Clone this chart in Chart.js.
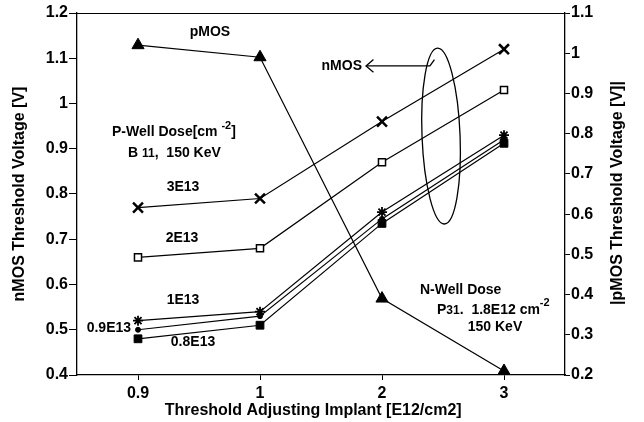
<!DOCTYPE html>
<html>
<head>
<meta charset="utf-8">
<script src="https://cdn.jsdelivr.net/npm/chart.js@4.4.1/dist/chart.umd.min.js"></script>
<style>
html,body{margin:0;padding:0;background:#fff;}
#wrap{width:644px;height:422px;position:relative;}
</style>
</head>
<body>
<div id="wrap"><canvas id="c" width="644" height="422"></canvas></div>
<script>
// ---- data ----
const categories = ['0.9', '1', '2', '3'];
const nmos3E13  = [0.77, 0.79, 0.96, 1.12];
const nmos2E13  = [0.66, 0.68, 0.87, 1.03];
const nmos1E13  = [0.52, 0.54, 0.76, 0.93];
const nmos09E13 = [0.50, 0.53, 0.745, 0.92];
const nmos08E13 = [0.48, 0.51, 0.735, 0.912];
const pmosVth   = [1.02, 0.99, 0.39, 0.21];
const leftTicks  = [0.4, 0.5, 0.6, 0.7, 0.8, 0.9, 1.0, 1.1, 1.2];
const rightTicks = [0.2, 0.3, 0.4, 0.5, 0.6, 0.7, 0.8, 0.9, 1.0, 1.1];
const xTitle = 'Threshold Adjusting Implant [E12/cm2]';
const yTitle = 'nMOS Threshold Voltage [V]';
const y1Title = '|pMOS Threshold Voltage [V]|';

const FONT = '"Liberation Sans", Arial, Helvetica, sans-serif';
const fmt = v => String(+(+v).toFixed(1));

function ds(label, data, style, radius, filled, axis, bw) {
  return {
    label, data, yAxisID: axis,
    borderColor: '#000', borderWidth: 1.2,
    pointStyle: style, pointRadius: radius,
    pointBorderWidth: bw || 1.5,
    pointBackgroundColor: filled ? '#000' : '#fff',
    pointBorderColor: '#000',
    tension: 0, fill: false, clip: false
  };
}

const annot = {
  id: 'annot',
  afterDatasetsDraw(chart) {
    const { ctx, chartArea: a, scales } = chart;
    const xs = scales.x, ys = scales.y;
    const P = (i, v) => [xs.getPixelForValue(i), ys.getPixelForValue(v)];
    ctx.save();
    ctx.fillStyle = '#000';
    ctx.strokeStyle = '#000';
    ctx.textBaseline = 'middle';
    const f = s => 'bold ' + s + 'px ' + FONT;
    const txt = (s, i, v, align, size, dx, dy) => {
      const [px, py] = P(i, v);
      ctx.font = f(size || 14);
      ctx.textAlign = align || 'center';
      ctx.fillText(s, px + (dx || 0), py + (dy || 0));
    };
    // runs of text with super/subscripts: [text, size, dy]
    const runs = (i, v, parts) => {
      let [px, py] = P(i, v);
      ctx.textAlign = 'left';
      for (const [s, size, dy] of parts) {
        ctx.font = f(size);
        ctx.fillText(s, px, py + dy);
        px += ctx.measureText(s).width;
      }
    };

    // top frame line
    ctx.lineWidth = 1;
    ctx.beginPath();
    ctx.moveTo(a.left, a.top + 0.5);
    ctx.lineTo(a.right, a.top + 0.5);
    ctx.stroke();

    txt('pMOS', 0.59, 1.158, 'center', 14);
    txt('nMOS', 1.836, 1.083, 'right', 14);
    // arrow to ellipse
    ctx.lineWidth = 1.3;
    ctx.beginPath();
    let p = P(1.93, 1.097); ctx.moveTo(p[0], p[1]);
    p = P(1.869, 1.083); ctx.lineTo(p[0], p[1]);
    p = P(1.93, 1.069); ctx.lineTo(p[0], p[1]);
    ctx.stroke();
    ctx.beginPath();
    p = P(1.869, 1.083); ctx.moveTo(p[0], p[1]);
    p = P(2.393, 1.083); ctx.lineTo(p[0], p[1]);
    p = P(2.43, 1.097); ctx.lineTo(p[0], p[1]);
    ctx.stroke();
    // ellipse
    const c = P(2.484, 0.928);
    const rx = xs.getPixelForValue(2.484 + 0.156) - c[0];
    const ry = ys.getPixelForValue(0.928) - ys.getPixelForValue(0.928 + 0.1945);
    ctx.beginPath();
    ctx.ellipse(c[0], c[1], rx, ry, -0.04, 0, Math.PI * 2);
    ctx.stroke();

    runs(-0.213, 0.937, [['P-Well Dose[cm ', 14, 0], ['-2', 11, -6], [']', 14, 0]]);
    runs(-0.082, 0.891, [['B ', 14, 0], ['11', 12, 1], [',  150 KeV', 14, 0]]);
    txt('3E13', 0.369, 0.815, 'center', 14);
    txt('2E13', 0.361, 0.703, 'center', 14);
    txt('1E13', 0.369, 0.566, 'center', 14);
    txt('0.9E13', -0.057, 0.504, 'right', 14);
    txt('0.8E13', 0.451, 0.473, 'center', 14);
    runs(2.311, 0.588, [['N-Well Dose', 14, 0]]);
    runs(2.451, 0.544, [['P', 14, 0], ['31', 12, 1], ['.  1.8E12 cm', 14, 0], ['-2', 11, -7]]);
    txt('150 KeV', 2.926, 0.506, 'center', 14);

    // axis titles
    ctx.font = f(16);
    ctx.textAlign = 'center';
    ctx.fillText(xTitle, a.left + a.width * 0.484, 411);
    ctx.save();
    ctx.translate(20, (a.top + a.bottom) / 2);
    ctx.rotate(-Math.PI / 2);
    ctx.fillText(yTitle, 0, 0);
    ctx.restore();
    ctx.save();
    ctx.translate(618, (a.top + a.bottom) / 2 - 1);
    ctx.rotate(-Math.PI / 2);
    ctx.fillText(y1Title, 0, 0);
    ctx.restore();
    ctx.restore();
  }
};

new Chart(document.getElementById('c'), {
  type: 'line',
  data: {
    labels: categories,
    datasets: [
      ds('3E13', nmos3E13, 'crossRot', 7, true, 'y', 2.5),
      ds('2E13', nmos2E13, 'rect', 5, false, 'y', 1.5),
      ds('1E13', nmos1E13, 'star', 5, true, 'y', 1.8),
      ds('0.9E13', nmos09E13, 'circle', 2.5, true, 'y', 1),
      ds('0.8E13', nmos08E13, 'rect', 5.5, true, 'y', 1),
      ds('pMOS', pmosVth, 'triangle', 7, true, 'y1', 1)
    ]
  },
  options: {
    responsive: false,
    animation: false,
    devicePixelRatio: 1,
    layout: { autoPadding: false, padding: { top: 13, left: 0, right: 0, bottom: 0 } },
    plugins: { legend: { display: false }, tooltip: { enabled: false } },
    scales: {
      x: {
        type: 'category',
        offset: true,
        afterFit: s => { s.height = 47; },
        border: { display: true, color: '#000', width: 1.3 },
        grid: { display: true, drawOnChartArea: false, tickLength: 5, color: '#000', tickColor: '#000', offset: false },
        ticks: { color: '#000', font: { family: FONT, size: 16, weight: 'bold' }, padding: 4, maxRotation: 0 }
      },
      y: {
        position: 'left',
        min: 0.4, max: 1.2,
        afterFit: s => { s.width = 77; },
        afterBuildTicks: s => { s.ticks = leftTicks.map(v => ({ value: v })); },
        border: { display: true, color: '#000', width: 1.3 },
        grid: { display: true, drawOnChartArea: false, tickLength: 8, tickColor: '#000' },
        ticks: { color: '#000', font: { family: FONT, size: 16, weight: 'bold' }, padding: 1, callback: v => fmt(v) }
      },
      y1: {
        position: 'right',
        min: 0.2, max: 1.1,
        afterFit: s => { s.width = 79; },
        afterBuildTicks: s => { s.ticks = rightTicks.map(v => ({ value: v })); },
        border: { display: true, color: '#000', width: 1.3 },
        grid: { display: true, drawOnChartArea: false, tickLength: 5, tickColor: '#000' },
        ticks: { color: '#000', font: { family: FONT, size: 16, weight: 'bold' }, padding: 1, callback: v => fmt(v) }
      }
    }
  },
  plugins: [annot]
});
</script>
</body>
</html>
